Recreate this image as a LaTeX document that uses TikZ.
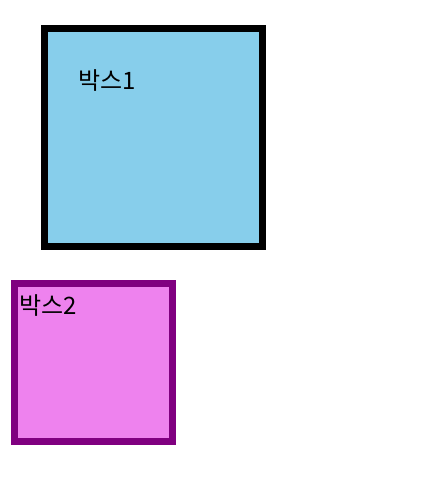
\documentclass[tikz,border=0pt]{standalone}
\usepackage{fontspec}
\newfontfamily\krfont{Noto Sans CJK KR}
\usetikzlibrary{positioning}

\definecolor{skyblue}{HTML}{87CEEB}
\definecolor{violetpink}{HTML}{EE82EE}
\definecolor{darkpurple}{HTML}{800080}

\begin{document}
\begin{tikzpicture}[x=1pt,y=-1pt,
    box/.style={rectangle, line width=7pt, inner sep=0pt, outer sep=0pt},
    lbl/.style={anchor=base west, inner sep=0pt, font=\krfont\fontsize{24}{28}\selectfont}]
    \useasboundingbox (0,0) rectangle (427,498);

    \node[box, draw=black, fill=skyblue, minimum size=218pt]        (box1) at (153.5,137.5) {};
    \node[box, draw=darkpurple, fill=violetpink, minimum size=158pt] (box2) at (93.5,362.5) {};

    \node[lbl] (label1) at (78,89) {박스1};
    \node[lbl] (label2) at (19,314) {박스2};
  \end{tikzpicture}
\end{document}
